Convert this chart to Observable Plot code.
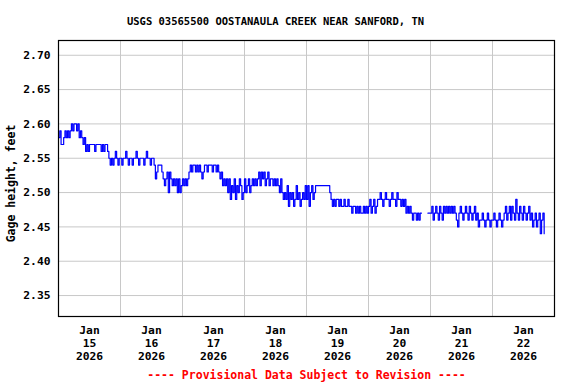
<!DOCTYPE html>
<html>
<head>
<meta charset="utf-8">
<script src="https://cdn.jsdelivr.net/npm/d3@7"></script>
<script src="https://cdn.jsdelivr.net/npm/@observablehq/plot@0.6"></script>
<style>
  html, body { margin: 0; padding: 0; background: white; }
</style>
</head>
<body>
<div id="chart"></div>
<script>
// Gage height (feet), 30-minute readings per day starting at 00:00
const jan15 = [2.58,2.59,2.57,2.57,2.58,2.59,2.58, 2.59,2.58, 2.59,2.60,2.59,2.60, 2.60,2.59,2.60,2.58,2.59,
  2.58,2.57,2.58,2.56,2.57,2.56,2.57, 2.57,2.57,2.57,2.56,2.57,2.57,2.57,2.57,2.56,2.57,2.56,2.57,2.57,
  2.56,2.55,2.54,2.55,2.54,2.55,2.56,2.55,2.54,2.55];
const jan16 = [2.55,2.54,2.55,2.55,2.56,2.55,2.54,2.55,2.55,2.54,2.55,2.55,2.56,2.55,2.54,2.55,2.55,2.55,2.54,2.55,
  2.56,2.55,2.55,2.54,2.55,2.55, 2.54,2.52, 2.53,2.54,2.54,2.54,
  2.53,2.52,2.51,2.52,2.53,2.50,2.53,2.52,2.51,2.52,2.51,2.52,2.50,2.52,2.50,2.51];
const jan17 = [2.52,2.51,2.52,2.51,2.52, 2.53,2.54,2.53,2.54,2.54,2.53,2.54,2.53,2.54, 2.53,2.52,2.53,
  2.54,2.54,2.53,2.54,2.54,2.54,2.53,2.54,2.54,2.53,2.54, 2.53,2.52,2.53,2.51,2.52,2.51,2.52,
  2.50,2.52,2.49,2.51,2.50,2.52,2.49,2.51,2.50,2.52,2.51,2.49,2.50];
const jan18 = [2.52,2.50,2.51,2.52,2.50, 2.51,2.52,2.51,2.52,2.51,2.52, 2.53,2.51,2.53,2.52,2.53,2.51,2.52,2.53,2.51,2.52,
  2.52,2.51,2.52,2.51,2.52, 2.51,2.50,2.52,2.50,2.49,
  2.50,2.49,2.51,2.48,2.50,2.49,2.50,2.48,2.49,2.51,2.49,2.50,2.48,2.49,2.50,2.49,2.51];
const jan19 = [2.49,2.51,2.48,2.50,2.51,2.49,2.50,2.51,2.51, 2.51,2.51,2.51,2.51,2.51,2.51,2.51,2.51,2.51,
  2.50,2.49,2.48,2.49,2.48,2.49, 2.49,2.48,2.49,2.48,2.48,2.49,2.48,2.48,2.49,2.48,
  2.48,2.47,2.48,2.48,2.47,2.48, 2.47,2.48,2.47,2.47,2.48,2.47,2.48,2.47];
const jan20 = [2.48,2.49,2.47,2.48,2.49,2.47,2.48,2.49,
  2.49,2.50,2.49,2.48,2.49,2.50,2.49,2.49,2.48,2.49,2.50,2.49,2.49,2.48,2.50,2.49,2.49,2.48,2.49,
  2.48,2.49,2.47,2.48,2.47,2.48, 2.47,2.46,2.47,2.47,2.46,2.47,2.46,2.47, 2.47,
  null,null,null,null, 2.47,2.47];
const jan21 = [2.47,2.48,2.46,2.47,2.48,2.47,2.46,2.48,2.47,2.46,2.48,2.47,2.48,2.47, 2.48,2.47,2.48,2.47,2.48,
  2.47,2.46,2.45,2.47, 2.48,2.47,2.46,2.47,2.48,2.47,2.46,2.48,2.47,2.46,2.47,2.48,
  2.46,2.47,2.45,2.46,2.46,2.47,2.46,2.45,2.46,2.47,2.46,2.45,2.46];
const jan22 = [2.46,2.47,2.46,2.45,2.46,2.47,2.46,2.45,2.46, 2.47,2.48,2.46,2.47,2.48,2.46,2.48,2.47,2.46,
  2.49, 2.47,2.46,2.48,2.47,2.46,2.48,2.47,2.46,2.47,2.48,2.46, 2.47,2.45,2.46,2.47,2.45,2.46,2.47,
  2.44,2.46,2.47,2.44];

const dayNumbers = [15, 16, 17, 18, 19, 20, 21, 22];
const tickMonth = "Jan";
const tickYear = "2026";
const yTickValues = [2.35, 2.40, 2.45, 2.50, 2.55, 2.60, 2.65, 2.70];
const titleText = "USGS 03565500 OOSTANAULA CREEK NEAR SANFORD, TN";
const yLabelText = "Gage height, feet";
const footerText = "---- Provisional Data Subject to Revision ----";

const days = [jan15, jan16, jan17, jan18, jan19, jan20, jan21, jan22];
const rows = [];
days.forEach((vals, k) => {
  const start = Date.UTC(2026, 0, dayNumbers[k]);
  vals.forEach((v, i) => rows.push({t: new Date(start + i * 30 * 60000), h: v == null ? NaN : v}));
});

const noonTicks = dayNumbers.map(d => new Date(Date.UTC(2026, 0, d, 12)));
const midnights = dayNumbers.slice(1).map(d => new Date(Date.UTC(2026, 0, d)));

const chart = Plot.plot({
  width: 576,
  height: 384,
  marginTop: 40,
  marginBottom: 68,
  marginLeft: 58,
  marginRight: 22,
  style: {fontFamily: "'DejaVu Sans Mono', monospace", fontWeight: "bold", fontSize: "11px", background: "white", color: "black"},
  x: {type: "utc", domain: [new Date(Date.UTC(2026, 0, 15)), new Date(Date.UTC(2026, 0, 23))]},
  y: {domain: [2.3195, 2.7215]},
  marks: [
    Plot.gridY(yTickValues, {stroke: "#c8c8c8", strokeOpacity: 1, strokeWidth: 1}),
    Plot.gridX(midnights, {stroke: "#c8c8c8", strokeOpacity: 1, strokeWidth: 1}),
    Plot.line(rows, {x: "t", y: "h", stroke: "#0000ff", strokeWidth: 1.2, curve: "step-after"}),
    Plot.frame({stroke: "black", strokeWidth: 1.2}),
    Plot.axisY(yTickValues, {tickSize: 0, tickPadding: 8, tickFormat: d => d.toFixed(2), label: null, fontSize: 11.3}),
    Plot.axisX(noonTicks, {tickSize: 0, tickPadding: 8, label: null, lineHeight: 1.15, fontSize: 11.3,
      tickFormat: d => `${tickMonth}\n${d.getUTCDate()}\n${tickYear}`}),
    Plot.text([titleText], {frameAnchor: "top", dx: -31, dy: -23, fontSize: 10.5, fontWeight: "bold", fill: "black"}),
    Plot.text([yLabelText], {frameAnchor: "left", textAnchor: "middle", rotate: -90, dx: -47, dy: 5, fontSize: 11.5, fontWeight: "bold", fill: "black"}),
    Plot.text([footerText], {frameAnchor: "bottom", dy: 62, fontSize: 11.5, fontWeight: "bold", fill: "#ff0000"})
  ]
});
document.getElementById("chart").appendChild(chart);
</script>
</body>
</html>
